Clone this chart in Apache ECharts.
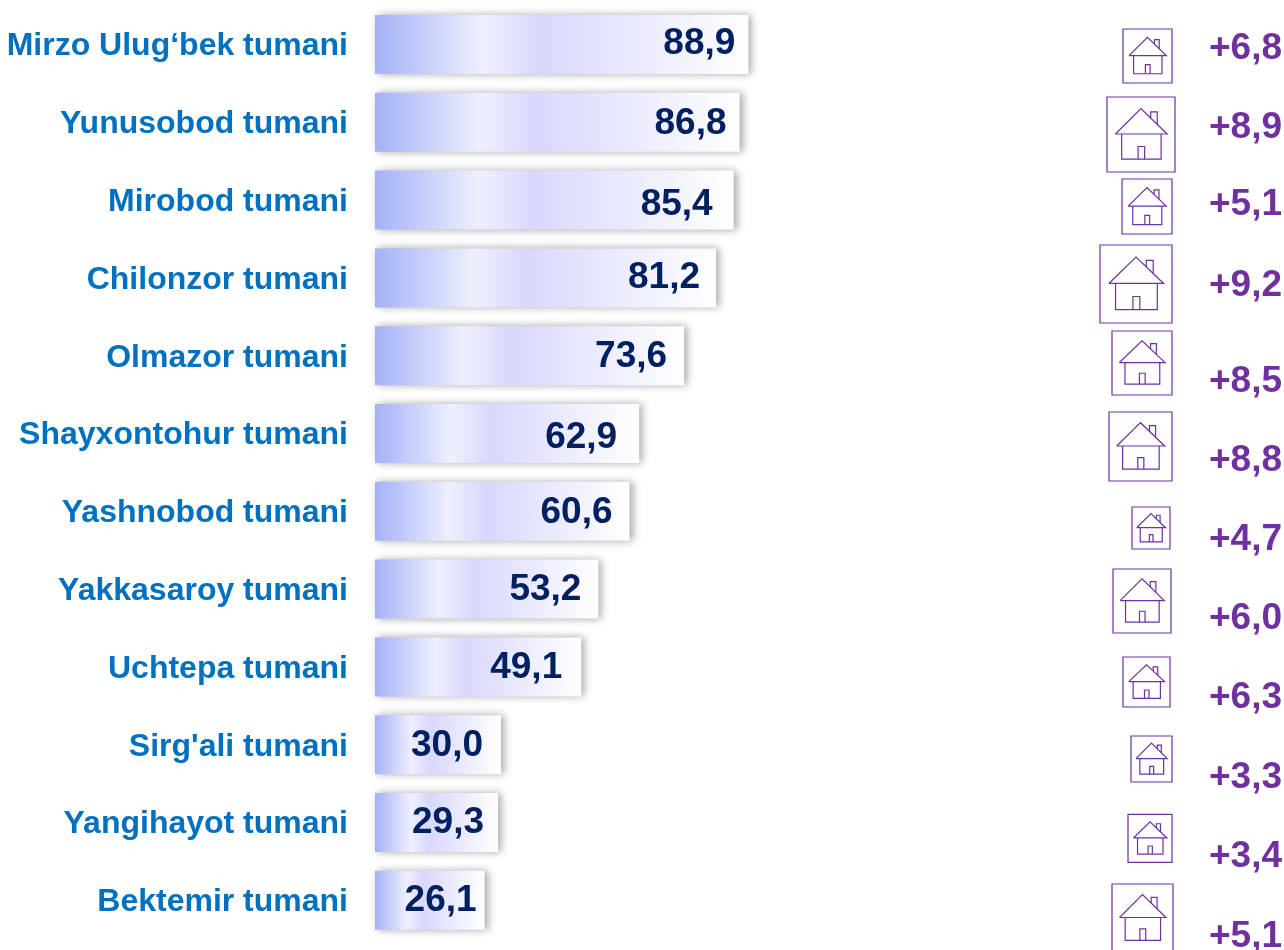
<!DOCTYPE html>
<html>
<head>
    <meta charset="utf-8">
    <title>tumanlar</title>
    <style>
        html, body { margin: 0; padding: 0; background: #fff; }
        #chart { width: 1284px; height: 950px; }
    </style>
</head>
<body>
<div id="chart"></div>
<script src="https://cdn.jsdelivr.net/npm/echarts@6/dist/echarts.min.js"></script>
<script>
    // data
    var districts = ['Mirzo Ulug‘bek tumani', 'Yunusobod tumani', 'Mirobod tumani', 'Chilonzor tumani',
        'Olmazor tumani', 'Shayxontohur tumani', 'Yashnobod tumani', 'Yakkasaroy tumani',
        'Uchtepa tumani', "Sirg'ali tumani", 'Yangihayot tumani', 'Bektemir tumani'];
    var values = [88.9, 86.8, 85.4, 81.2, 73.6, 62.9, 60.6, 53.2, 49.1, 30.0, 29.3, 26.1];
    var growth = [6.8, 8.9, 5.1, 9.2, 8.5, 8.8, 4.7, 6.0, 6.3, 3.3, 3.4, 5.1];

    // hand placed things in the original slide, per row
    var labelInset = [13, 13, 21, 16, 17, 22, 17, 17, 19, 18, 14, 8];
    var labelDy = [-1, 1, 5, 0, 1, 4, 1, 1, 1, 1, 0, 0];
    var boxW = [49, 68, 50, 72, 60, 63, 38, 58, 47, 41, 44, 61];
    var boxH = [54, 75, 55, 78, 64, 69, 42, 64, 50, 46, 48, 68];
    var boxRight = [82, 85, 82, 82, 82, 82, 80, 81, 80, 82, 82, 83];
    var boxDy = [11.5, 12.2, 6.4, 6.1, 7.3, 13, 16.7, 11.9, 15.1, 14.3, 15.8, 17.7];
    var growthDy = [4, 5, 5, 8, 26, 27, 28, 30, 31, 33, 34, 36];

    var purple = '#7030A0';
    var font = '"Liberation Sans", Arial, sans-serif';

    function fmt(v, plus) {
        return (plus ? '+' : '') + v.toFixed(1).replace('.', ',');
    }

    // house drawn inside its box, all numbers are fractions of the box
    function house(x, y, w, h) {
        var style = {fill: null, stroke: purple, lineWidth: 1.2};
        function p(a, b) {
            return [x + a * w, y + b * h];
        }
        function line(points) {
            return {type: 'polyline', shape: {points: points.map(function (q) { return p(q[0], q[1]); })}, style: style};
        }
        return [
            {type: 'rect', shape: {x: x, y: y, width: w, height: h}, style: style},
            line([[0.123, 0.493], [0.5, 0.155], [0.884, 0.493], [0.123, 0.493]]),
            line([[0.216, 0.493], [0.216, 0.829], [0.796, 0.829], [0.796, 0.493]]),
            line([[0.457, 0.829], [0.457, 0.66], [0.553, 0.66], [0.553, 0.829]]),
            line([[0.643, 0.282], [0.643, 0.197], [0.739, 0.197], [0.739, 0.369]])
        ];
    }

    var chart = echarts.init(document.getElementById('chart'));
    chart.setOption({
        animation: false,
        backgroundColor: '#fff',
        grid: [
            {left: 375, top: 5.6, width: 420, height: 933.6},
            {left: 1090, top: 5.6, width: 194, height: 933.6}
        ],
        xAxis: [
            {type: 'value', gridIndex: 0, min: 0, max: 100, show: false},
            {type: 'value', gridIndex: 1, min: 0, max: 194, show: false}
        ],
        yAxis: [
            {
                type: 'category', gridIndex: 0, inverse: true, data: districts,
                axisLine: {show: false}, axisTick: {show: false},
                axisLabel: {
                    margin: 27, interval: 0,
                    formatter: '{name|{value}}',
                    rich: {
                        // plain padding is ignored here, rich text takes it
                        name: {
                            color: '#0070C0', fontFamily: font, fontSize: 32, fontWeight: 'bold',
                            padding: [4, 0, 0, 0]
                        }
                    }
                }
            },
            {type: 'category', gridIndex: 1, inverse: true, data: districts, show: false}
        ],
        series: [
            {
                type: 'bar', xAxisIndex: 0, yAxisIndex: 0, barWidth: 59,
                data: values.map(function (v, i) {
                    return {
                        value: v,
                        label: {distance: labelInset[i], offset: [0, labelDy[i]]}
                    };
                }),
                itemStyle: {
                    color: new echarts.graphic.LinearGradient(0, 0, 1, 0, [
                        {offset: 0, color: '#A4B1F8'},
                        {offset: 0.29, color: '#EEF0FE'},
                        {offset: 0.44, color: '#D8D8FD'},
                        {offset: 1, color: '#FFFFFF'}
                    ]),
                    shadowBlur: 8,
                    shadowColor: 'rgba(0,0,0,0.35)',
                    shadowOffsetX: 3,
                    shadowOffsetY: 0
                },
                label: {
                    show: true, position: 'insideRight', color: '#002060', fontFamily: font,
                    fontSize: 37, fontWeight: 'bold',
                    formatter: function (p) {
                        return fmt(p.value);
                    }
                }
            },
            {
                type: 'custom', xAxisIndex: 1, yAxisIndex: 1, clip: false,
                data: growth.map(function (v, i) {
                    return [0, i, v];
                }),
                encode: {x: 0, y: 1},
                renderItem: function (params, api) {
                    var i = params.dataIndex;
                    var rowY = api.coord([0, i])[1];
                    var right = api.coord([boxRight[i], i])[0];
                    var textX = api.coord([192, i])[0];
                    var top = rowY + boxDy[i] - boxH[i] / 2;
                    var els = house(right - boxW[i], top, boxW[i], boxH[i]);
                    els.push({
                        type: 'text',
                        style: {
                            x: textX, y: rowY + growthDy[i], text: fmt(api.value(2), true),
                            fill: purple, font: 'bold 37px ' + font,
                            textAlign: 'right', textVerticalAlign: 'middle'
                        }
                    });
                    return {type: 'group', children: els};
                }
            }
        ]
    });
</script>
</body>
</html>
